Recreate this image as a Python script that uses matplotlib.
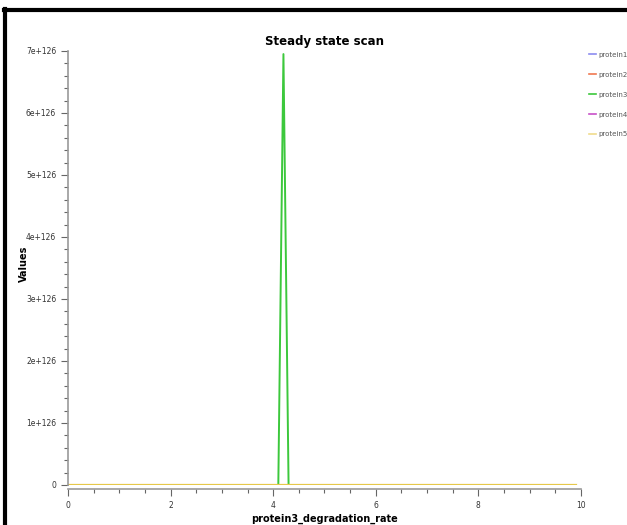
import numpy as np
import matplotlib
matplotlib.use('Agg')
import matplotlib.pyplot as plt
from matplotlib.ticker import MultipleLocator
from matplotlib.lines import Line2D

# scan parameter (protein3_degradation_rate), 0.0 .. 9.9
rate = np.round(np.arange(0, 100) * 0.1, 1)

names = ['protein1', 'protein2', 'protein3', 'protein4', 'protein5']
colors = ['#8c8cf0', '#f07850', '#3cc83c', '#c850c8', '#f0dc8c']

protein1 = [0.0] * 100
protein2 = [0.0] * 100
protein3 = [0.0] * 42 + [6.95e126] + [0.0] * 57
protein4 = [0.0] * 100
protein5 = [0.0] * 100
series = [protein1, protein2, protein3, protein4, protein5]

plt.rcParams['font.family'] = ['DejaVu Sans']
fig = plt.figure(figsize=(6.27, 5.25), dpi=100)
ax = fig.add_axes([0.1085, 0.0762, 0.818, 0.8267])

for name, col, vals in zip(names, colors, series):
  ax.plot(rate, vals, color=col, lw=1.4, label=name)
# yellow line drawn on top at zero like the reference
ax.plot(rate, protein5, color='#e6c84a', lw=1.6)

ax.set_xlim(0, 10)
ax.set_ylim(0, 7e126)
ax.xaxis.set_major_locator(MultipleLocator(2))
ax.xaxis.set_minor_locator(MultipleLocator(0.5))
ax.yaxis.set_major_locator(MultipleLocator(1e126))
ax.yaxis.set_minor_locator(MultipleLocator(0.2e126))
ax.yaxis.set_major_formatter(plt.FuncFormatter(lambda v, p: '0' if v == 0 else '%de+126' % round(v / 1e126)))

for s in ['top', 'right']:
  ax.spines[s].set_visible(False)
ax.spines['bottom'].set_position(('outward', 3))
for s in ['left', 'bottom']:
  ax.spines[s].set_color('#999999')
  ax.spines[s].set_linewidth(1.2)
ax.tick_params(which='both', direction='out', color='#666666', labelsize=5.5, labelcolor='#333333')
ax.tick_params(which='major', length=5, width=0.8)
ax.tick_params(which='minor', length=3, width=0.8)

ax.set_title('Steady state scan', fontsize=8.5, fontweight='bold', pad=4)
ax.set_xlabel('protein3_degradation_rate', fontsize=7, fontweight='bold', labelpad=3)
ax.set_ylabel('Values', fontsize=7, fontweight='bold')
ax.yaxis.set_label_coords(-0.077, 0.51)

handles = [Line2D([], [], color=c, lw=1.2) for c in colors]
fig.legend(handles, names, loc='upper left', bbox_to_anchor=(0.93, 0.913), frameon=False,
           fontsize=5, handlelength=0.9, handletextpad=0.4, labelspacing=2.0, labelcolor='#555555')

# black frame (top and left) like the screenshot
fig.add_artist(Line2D([0.006, 1.0], [0.981, 0.981], color='black', lw=3, transform=fig.transFigure))
fig.add_artist(Line2D([0.008, 0.008], [0.0, 0.983], color='black', lw=3, transform=fig.transFigure))

plt.savefig('out.png', dpi=100)
